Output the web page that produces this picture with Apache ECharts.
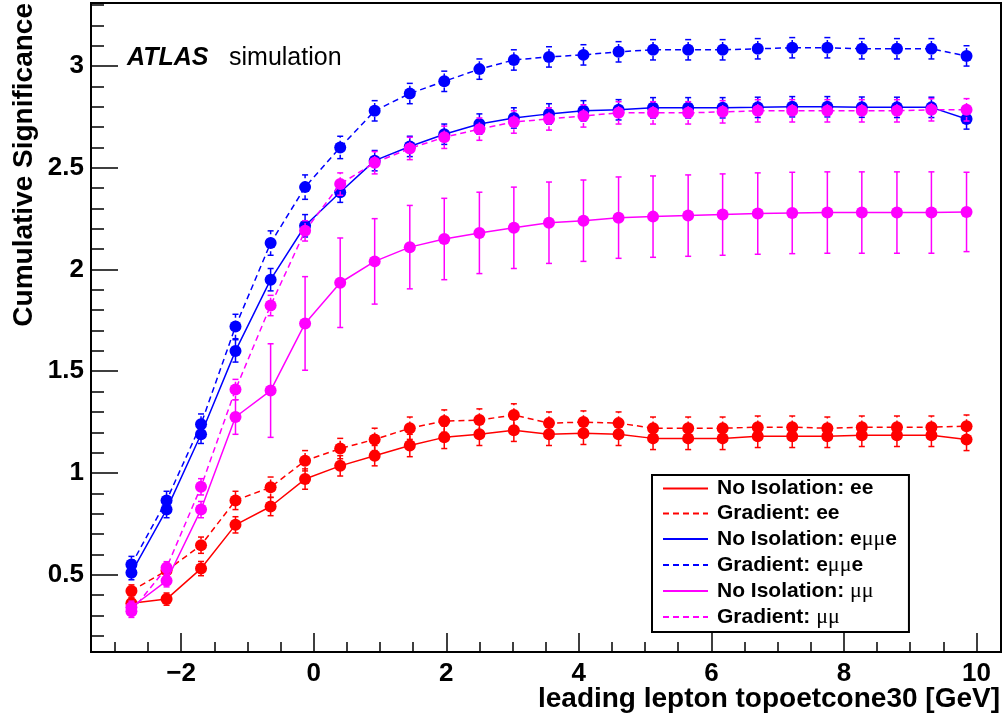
<!DOCTYPE html>
<html>
<head>
<meta charset="utf-8">
<script src="https://cdn.jsdelivr.net/npm/echarts@6/dist/echarts.min.js"></script>
<style>
html,body{margin:0;padding:0;background:#fff;}
#chart{width:1007px;height:722px;}
</style>
</head>
<body>
<div id="chart"></div>
<script>
// ---- data ----
const xVals = [-2.75, -2.22, -1.70, -1.18, -0.65, -0.13, 0.40, 0.92, 1.45, 1.97, 2.50, 3.02, 3.55, 4.07, 4.60, 5.12, 5.65, 6.17, 6.70, 7.22, 7.75, 8.27, 8.80, 9.32, 9.85];

const eeNoIso    = [0.36, 0.38, 0.53, 0.745, 0.835, 0.97, 1.035, 1.085, 1.135, 1.175, 1.19, 1.21, 1.19, 1.195, 1.19, 1.17, 1.17, 1.17, 1.18, 1.18, 1.18, 1.185, 1.185, 1.185, 1.165];
const eeNoIsoErr = [0.025, 0.03, 0.035, 0.04, 0.045, 0.05, 0.05, 0.05, 0.055, 0.055, 0.055, 0.055, 0.055, 0.055, 0.055, 0.055, 0.055, 0.055, 0.055, 0.055, 0.055, 0.055, 0.055, 0.055, 0.055];

const eeGrad    = [0.42, 0.52, 0.645, 0.865, 0.93, 1.06, 1.12, 1.165, 1.22, 1.255, 1.26, 1.285, 1.245, 1.25, 1.245, 1.22, 1.22, 1.22, 1.225, 1.225, 1.22, 1.225, 1.225, 1.225, 1.23];
const eeGradErr = [0.03, 0.035, 0.04, 0.045, 0.05, 0.05, 0.05, 0.055, 0.055, 0.055, 0.055, 0.055, 0.055, 0.055, 0.055, 0.055, 0.055, 0.055, 0.055, 0.055, 0.055, 0.055, 0.055, 0.055, 0.055];

const emNoIso    = [0.51, 0.82, 1.19, 1.60, 1.95, 2.215, 2.38, 2.535, 2.605, 2.665, 2.715, 2.745, 2.765, 2.78, 2.785, 2.795, 2.795, 2.795, 2.797, 2.80, 2.80, 2.798, 2.797, 2.797, 2.74];
const emNoIsoErr = [0.035, 0.04, 0.045, 0.055, 0.055, 0.055, 0.05, 0.05, 0.05, 0.05, 0.05, 0.05, 0.05, 0.05, 0.05, 0.05, 0.05, 0.05, 0.05, 0.05, 0.05, 0.05, 0.05, 0.05, 0.05];

const emGrad    = [0.55, 0.865, 1.24, 1.72, 2.13, 2.405, 2.60, 2.78, 2.865, 2.925, 2.985, 3.03, 3.045, 3.055, 3.07, 3.08, 3.08, 3.08, 3.085, 3.09, 3.09, 3.085, 3.085, 3.085, 3.05];
const emGradErr = [0.04, 0.045, 0.05, 0.06, 0.06, 0.06, 0.055, 0.05, 0.05, 0.05, 0.05, 0.05, 0.05, 0.05, 0.05, 0.05, 0.05, 0.05, 0.05, 0.05, 0.05, 0.05, 0.05, 0.05, 0.05];

const mmNoIso    = [0.34, 0.47, 0.82, 1.275, 1.405, 1.735, 1.935, 2.04, 2.11, 2.15, 2.18, 2.205, 2.23, 2.24, 2.255, 2.26, 2.265, 2.27, 2.275, 2.278, 2.28, 2.28, 2.28, 2.28, 2.283];
const mmNoIsoErr = [0.03, 0.03, 0.04, 0.085, 0.23, 0.23, 0.22, 0.21, 0.205, 0.2, 0.2, 0.2, 0.2, 0.2, 0.2, 0.2, 0.2, 0.2, 0.2, 0.2, 0.2, 0.2, 0.2, 0.2, 0.195];

const mmGrad    = [0.32, 0.534, 0.932, 1.41, 1.823, 2.19, 2.42, 2.525, 2.595, 2.65, 2.69, 2.725, 2.74, 2.755, 2.77, 2.77, 2.77, 2.775, 2.78, 2.78, 2.78, 2.78, 2.78, 2.785, 2.785];
const mmGradErr = [0.03, 0.03, 0.04, 0.05, 0.05, 0.05, 0.055, 0.055, 0.055, 0.055, 0.055, 0.055, 0.055, 0.055, 0.055, 0.055, 0.055, 0.055, 0.055, 0.055, 0.055, 0.055, 0.055, 0.055, 0.055];

const seriesNames = ['No Isolation: ee', 'Gradient: ee', 'No Isolation: eμμe', 'Gradient: eμμe', 'No Isolation: μμ', 'Gradient: μμ'];
const xMajorTicks = [-2, 0, 2, 4, 6, 8, 10];
const xMinorTicks = [-3, -2.5, -1.5, -1, -0.5, 0.5, 1, 1.5, 2.5, 3, 3.5, 4.5, 5, 5.5, 6.5, 7, 7.5, 8.5, 9, 9.5];
const yMajorTicks = [0.5, 1, 1.5, 2, 2.5, 3];
const yMinorTicks = [0.2, 0.3, 0.4, 0.6, 0.7, 0.8, 0.9, 1.1, 1.2, 1.3, 1.4, 1.6, 1.7, 1.8, 1.9, 2.1, 2.2, 2.3, 2.4, 2.6, 2.7, 2.8, 2.9, 3.1, 3.2, 3.3];

// ---- styling ----
const FONT = '"Liberation Sans", Arial, Helvetica, sans-serif';
const defs = [
  {y: eeNoIso, e: eeNoIsoErr, color: '#ff0000', dash: 'solid'},
  {y: eeGrad,  e: eeGradErr,  color: '#ff0000', dash: [6, 4]},
  {y: emNoIso, e: emNoIsoErr, color: '#0000ff', dash: 'solid'},
  {y: emGrad,  e: emGradErr,  color: '#0000ff', dash: [6, 4]},
  {y: mmNoIso, e: mmNoIsoErr, color: '#ff00ff', dash: 'solid'},
  {y: mmGrad,  e: mmGradErr,  color: '#ff00ff', dash: [6, 4]}
];

const X_MIN = -3.36, X_MAX = 10.37, Y_MIN = 0.12, Y_MAX = 3.31;

function makeErrRender(color, dash) {
  return function (params, api) {
    const x = api.value(0), lo = api.value(1), hi = api.value(2);
    const p1 = api.coord([x, lo]);
    const p2 = api.coord([x, hi]);
    const cap = 3;
    const ld = dash === 'solid' ? null : [4, 3];
    return {
      type: 'group',
      children: [
        {type: 'line', shape: {x1: p1[0], y1: p1[1], x2: p2[0], y2: p2[1]}, style: {stroke: color, lineWidth: 1.5, lineDash: ld}},
        {type: 'line', shape: {x1: p1[0] - cap, y1: p1[1], x2: p1[0] + cap, y2: p1[1]}, style: {stroke: color, lineWidth: 1.5}},
        {type: 'line', shape: {x1: p2[0] - cap, y1: p2[1], x2: p2[0] + cap, y2: p2[1]}, style: {stroke: color, lineWidth: 1.5}}
      ]
    };
  };
}

const series = [];
defs.forEach(function (d, k) {
  series.push({
    type: 'custom',
    name: 'err' + k,
    renderItem: makeErrRender(d.color, d.dash),
    data: xVals.map(function (x, i) { return [x, d.y[i] - d.e[i], d.y[i] + d.e[i]]; }),
    encode: {x: 0, y: [1, 2]},
    z: 2 + k * 2,
    silent: true
  });
  series.push({
    type: 'line',
    name: seriesNames[k],
    data: xVals.map(function (x, i) { return [x, d.y[i]]; }),
    symbol: 'circle',
    symbolSize: 12,
    showSymbol: true,
    lineStyle: {color: d.color, width: 1.5, type: d.dash},
    itemStyle: {color: d.color},
    z: 3 + k * 2
  });
});

const chart = echarts.init(document.getElementById('chart'), null, {renderer: 'canvas'});
chart.setOption({
  animation: false,
  backgroundColor: '#ffffff',
  grid: {left: 91, right: 6, top: 3, bottom: 70, show: true, borderColor: '#000', borderWidth: 2, outerBoundsMode: 'none', containLabel: false},
  xAxis: [
    {
      type: 'value', min: X_MIN, max: X_MAX, position: 'bottom',
      axisLine: {show: true, onZero: false, lineStyle: {color: '#000', width: 2}},
      axisTick: {show: true, inside: true, length: 19, customValues: xMajorTicks, lineStyle: {color: '#000', width: 1.5}},
      axisLabel: {show: true, customValues: xMajorTicks, margin: 9, color: '#000', fontFamily: FONT, fontWeight: 'bold', fontSize: 26,
        formatter: function (v) { return v < 0 ? '\u2212' + Math.abs(v) : String(v); }},
      splitLine: {show: false}
    },
    {
      type: 'value', min: X_MIN, max: X_MAX, position: 'bottom',
      axisLine: {show: false, onZero: false},
      axisTick: {show: true, inside: true, length: 10, customValues: xMinorTicks, lineStyle: {color: '#000', width: 1.5}},
      axisLabel: {show: false},
      splitLine: {show: false}
    }
  ],
  yAxis: [
    {
      type: 'value', min: Y_MIN, max: Y_MAX, position: 'left',
      axisLine: {show: true, onZero: false, lineStyle: {color: '#000', width: 2}},
      axisTick: {show: true, inside: true, length: 27, customValues: yMajorTicks, lineStyle: {color: '#000', width: 1.5}},
      axisLabel: {show: true, customValues: yMajorTicks, margin: 7, color: '#000', fontFamily: FONT, fontWeight: 'bold', fontSize: 26},
      splitLine: {show: false}
    },
    {
      type: 'value', min: Y_MIN, max: Y_MAX, position: 'left',
      axisLine: {show: false, onZero: false},
      axisTick: {show: true, inside: true, length: 13, customValues: yMinorTicks, lineStyle: {color: '#000', width: 1.5}},
      axisLabel: {show: false},
      splitLine: {show: false}
    }
  ],
  legend: {
    show: true,
    orient: 'vertical',
    left: 652, top: 475,
    data: seriesNames,
    selectedMode: false,
    backgroundColor: '#ffffff',
    borderColor: '#000', borderWidth: 2, borderRadius: 0,
    padding: [3, 12, 4, 10],
    itemWidth: 45, itemHeight: 14, itemGap: 4,
    itemStyle: {opacity: 0},
    textStyle: {
      color: '#000', fontFamily: FONT, fontWeight: 'bold', fontSize: 21, lineHeight: 20, padding: [0, 0, 0, 4],
      rich: {
        mu: {fontFamily: '"Liberation Serif", "DejaVu Serif", serif', fontWeight: 'normal', fontSize: 22, lineHeight: 20, color: '#000'}
      }
    },
    formatter: function (name) { return name.replace('μμ', '{mu|μμ}'); }
  },
  graphic: [
    {type: 'text', x: 127, y: 58, style: {text: 'ATLAS', fill: '#000', font: 'italic bold 25px "Liberation Sans", Arial, sans-serif', align: 'left', verticalAlign: 'middle'}},
    {type: 'text', x: 229, y: 58, style: {text: 'simulation', fill: '#000', font: 'normal 25px "Liberation Sans", Arial, sans-serif', align: 'left', verticalAlign: 'middle'}},
    {type: 'text', x: 1000, y: 699, style: {text: 'leading lepton topoetcone30 [GeV]', fill: '#000', font: 'bold 28px "Liberation Sans", Arial, sans-serif', align: 'right', verticalAlign: 'middle'}},
    {type: 'text', x: 24, y: 3, rotation: Math.PI / 2, style: {text: 'Cumulative Significance', fill: '#000', font: 'bold 28px "Liberation Sans", Arial, sans-serif', align: 'right', verticalAlign: 'middle'}}
  ],
  series: series
});
</script>
</body>
</html>
